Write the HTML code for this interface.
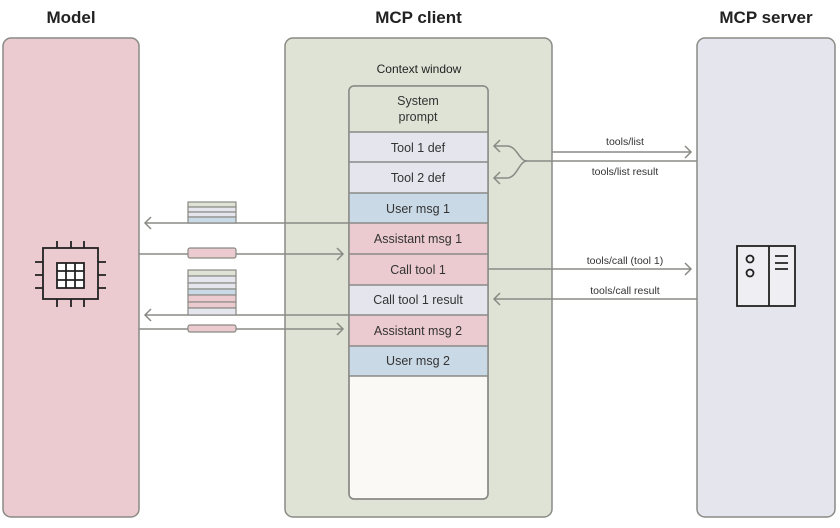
<!DOCTYPE html>
<html><head><style>
body{margin:0;width:840px;height:528px;background:#fff;font-family:"Liberation Sans",sans-serif;position:relative;overflow:hidden}
.t{position:absolute;font-weight:bold;font-size:17px;color:#222;text-align:center}
</style></head><body>
<svg width="840" height="528" style="position:absolute;left:0;top:0" font-family="Liberation Sans, sans-serif">
<rect x="3" y="38" width="136" height="479" rx="8" fill="#ebcbcf" stroke="#8a8a85" stroke-width="1.5"/>
<rect x="285" y="38" width="267" height="479" rx="8" fill="#dfe3d6" stroke="#8a8a85" stroke-width="1.5"/>
<rect x="697" y="38" width="138" height="479" rx="8" fill="#e5e5ee" stroke="#8a8a85" stroke-width="1.5"/>
<text x="419" y="73" font-size="12" text-anchor="middle" fill="#222">Context window</text>
<rect x="349" y="86" width="139" height="413" rx="5" fill="#faf9f6" stroke="#8a8a85" stroke-width="1.5"/>
<path d="M349,91 a5,5 0 0 1 5,-5 h129 a5,5 0 0 1 5,5 v41 h-139z" fill="#dfe3d6"/>
<rect x="349" y="132" width="139" height="30" fill="#e5e5ee"/>
<rect x="349" y="162" width="139" height="31" fill="#e5e5ee"/>
<rect x="349" y="193" width="139" height="30" fill="#c9d9e6"/>
<rect x="349" y="223" width="139" height="31" fill="#ebcbcf"/>
<rect x="349" y="254" width="139" height="31" fill="#ebcbcf"/>
<rect x="349" y="285" width="139" height="30" fill="#e5e5ee"/>
<rect x="349" y="315" width="139" height="31" fill="#ebcbcf"/>
<rect x="349" y="346" width="139" height="30" fill="#c9d9e6"/>
<g stroke="#8a8a85" stroke-width="1.5" fill="none">
<rect x="349" y="86" width="139" height="413" rx="5"/>
<path d="M349,132h139M349,162h139M349,193h139M349,223h139M349,254h139M349,285h139M349,315h139M349,346h139M349,376h139"/>
<!-- left arrows -->
<path d="M349,223H145M151,217l-6,6l6,6"/>
<path d="M139,254H343M337,248l6,6l-6,6"/>
<path d="M349,315H145M151,309l-6,6l6,6"/>
<path d="M139,329H343M337,323l6,6l-6,6"/>
<!-- right arrows -->
<path d="M552,152H691M685,146l6,6l-6,6"/>
<path d="M697,161H527c-8,0 -10,-15 -20,-15H494M500,140l-6,6l6,6"/>
<path d="M527,161c-8,0 -10,17 -20,17H494M500,172l-6,6l6,6"/>
<path d="M488,269H691M685,263l6,6l-6,6"/>
<path d="M697,299H494M500,293l-6,6l6,6"/>
</g>
<!-- stacks -->
<g stroke="#8a8a85" stroke-width="1.2">
<rect x="188" y="202" width="48" height="5" fill="#dfe3d6"/>
<rect x="188" y="207" width="48" height="5" fill="#e5e5ee"/>
<rect x="188" y="212" width="48" height="5" fill="#e5e5ee"/>
<rect x="188" y="217" width="48" height="6" fill="#c9d9e6"/>
<rect x="188" y="248" width="48" height="10" rx="2" fill="#ebcbcf"/>
<rect x="188" y="270" width="48" height="6" fill="#dfe3d6"/>
<rect x="188" y="276" width="48" height="7" fill="#e5e5ee"/>
<rect x="188" y="283" width="48" height="6" fill="#e5e5ee"/>
<rect x="188" y="289" width="48" height="6" fill="#c9d9e6"/>
<rect x="188" y="295" width="48" height="7" fill="#ebcbcf"/>
<rect x="188" y="302" width="48" height="6" fill="#ebcbcf"/>
<rect x="188" y="308" width="48" height="7" fill="#e5e5ee"/>
<rect x="188" y="325" width="48" height="7" rx="2" fill="#ebcbcf"/>
</g>
<!-- chip -->
<g stroke="#222" stroke-width="1.8" fill="none">
<rect x="43" y="248" width="55" height="51"/>
<rect x="57" y="263" width="27" height="25" fill="#fff"/>
<path d="M66,263v25M75,263v25M57,271h27M57,280h27"/>
<path d="M57,241v7M71,241v7M84,241v7M57,299v8M71,299v8M84,299v8M35,262h8M35,275h8M35,288h8M98,262h8M98,275h8M98,288h8"/>
</g>
<!-- server -->
<g stroke="#222" stroke-width="1.8" fill="none">
<rect x="737" y="246" width="58" height="60" fill="#eeeef3"/>
<path d="M769,246v60M775,256h13M775,263h13M775,269h13"/>
<circle cx="750" cy="259" r="3.5"/><circle cx="750" cy="273" r="3.5"/>
</g>
<g font-size="12.5" fill="#333" text-anchor="middle">
<text x="418" y="105">System</text><text x="418" y="121">prompt</text>
<text x="418" y="152">Tool 1 def</text>
<text x="418" y="182">Tool 2 def</text>
<text x="418" y="213">User msg 1</text>
<text x="418" y="243">Assistant msg 1</text>
<text x="418" y="274">Call tool 1</text>
<text x="418" y="304">Call tool 1 result</text>
<text x="418" y="335">Assistant msg 2</text>
<text x="418" y="365">User msg 2</text>
</g>
<g font-size="10.5" fill="#333" text-anchor="middle">
<text x="625" y="145">tools/list</text>
<text x="625" y="175">tools/list result</text>
<text x="625" y="264">tools/call (tool 1)</text>
<text x="625" y="294">tools/call result</text>
</g>
</svg>
<div class="t" style="left:3px;width:136px;top:8px">Model</div>
<div class="t" style="left:285px;width:267px;top:8px">MCP client</div>
<div class="t" style="left:690px;width:152px;top:8px">MCP server</div>
</body></html>
